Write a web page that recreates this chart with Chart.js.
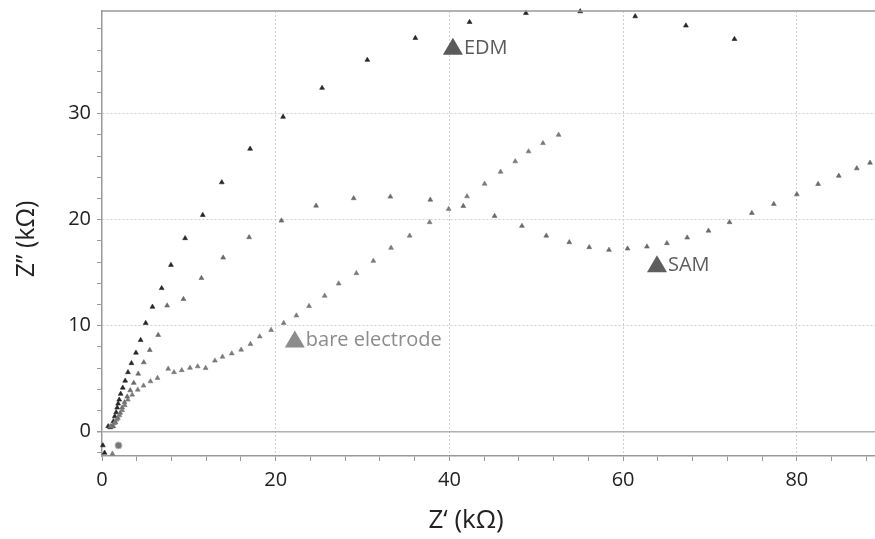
<!DOCTYPE html>
<html lang="en">

<head>
    <meta charset="UTF-8">
    <title>Nyquist plot</title>
    <style>
        body { margin: 0; background: #fff; }
    </style>
</head>

<body>
    <canvas id="myChart" width="875" height="539"></canvas>

    <script src="https://cdn.jsdelivr.net/npm/chart.js@4.4.1/dist/chart.umd.min.js"></script>
    <script>
        // EDM series (kOhm)
        const edmX = [0.1, 0.3, 0.71, 0.94, 1.17, 1.32, 1.47, 1.63, 1.75, 1.86, 1.98, 2.15, 2.39, 2.67, 2.99, 3.39, 3.91,
            4.45, 5.03, 5.81, 6.87, 7.94, 9.57, 11.6, 13.79, 17.05, 20.85, 25.34, 30.55, 36.08, 42.32, 48.81, 55.06,
            61.39, 67.23, 72.82];
        const edmY = [-1.3, -2.0, 0.5, 0.4, 0.5, 0.97, 1.44, 1.82, 2.26, 2.64, 3.01, 3.56, 4.14, 4.8, 5.6, 6.45, 7.44,
            8.63, 10.24, 11.77, 13.53, 15.72, 18.24, 20.43, 23.51, 26.68, 29.69, 32.42, 35.06, 37.13, 38.63, 39.48, 39.64,
            39.17, 38.3, 37.03];

        // SAM series
        const samX = [1.29, 1.55, 1.82, 2.09, 2.32, 2.59, 2.9, 3.25, 3.66, 4.17, 4.81, 5.5, 6.47, 7.5, 9.38, 11.45,
            13.95, 16.94, 20.66, 24.65, 28.98, 33.2, 37.8, 41.6, 45.2, 48.35, 51.15, 53.8, 56.1, 58.37, 60.51, 62.74,
            65.04, 67.38, 69.83, 72.25, 74.82, 77.35, 80.0, 82.45, 84.83, 86.9, 88.43];
        const samY = [0.5, 0.88, 1.29, 1.76, 2.26, 2.76, 3.3, 3.89, 4.59, 5.46, 6.53, 7.69, 9.11, 11.89, 12.5, 14.48,
            16.41, 18.33, 19.9, 21.31, 22.01, 22.16, 21.87, 21.28, 20.34, 19.4, 18.48, 17.86, 17.39, 17.14, 17.26, 17.45,
            17.77, 18.3, 18.95, 19.75, 20.62, 21.47, 22.38, 23.35, 24.13, 24.83, 25.36];

        // bare electrode series
        const bareX = [1.2, 0.98, 1.4, 1.7, 2.01, 2.32, 2.62, 2.97, 3.48, 4.12, 4.78, 5.58, 6.39, 7.62, 8.29, 9.18,
            10.13, 11.02, 11.93, 13.0, 13.87, 14.94, 16.02, 17.09, 18.16, 19.47, 20.92, 22.38, 23.84, 25.64, 27.25,
            29.29, 31.24, 33.28, 35.42, 37.72, 39.91, 42.03, 44.05, 45.89, 47.58, 49.11, 50.77, 52.57];
        const bareY = [-2.1, 0.5, 0.78, 1.13, 1.53, 2.0, 2.48, 3.01, 3.48, 3.95, 4.33, 4.74, 5.06, 5.93, 5.6, 5.79,
            6.01, 6.15, 6.0, 6.69, 7.06, 7.37, 7.72, 8.26, 8.97, 9.58, 10.24, 10.95, 11.84, 12.81, 13.96,
            14.94, 16.1, 17.33, 18.48, 19.75, 21.0, 22.19, 23.38, 24.51, 25.49, 26.43, 27.21, 27.99];

        // odd round marker near origin
        const spotX = [1.9];
        const spotY = [-1.3];

        // in-plot labels
        const labelNames = ['EDM', 'SAM', 'bare electrode'];
        const labelX = [40.4, 63.9, 22.2];
        const labelY = [36.3, 15.8, 8.7];
        const labelColors = ['#5a5a5a', '#5e5e5e', '#8c8c8c'];

        const xTickLabels = [0, 20, 40, 60, 80];
        const yTickLabels = [0, 10, 20, 30];

        const toPoints = (xs, ys) => xs.map((x, i) => ({ x: x, y: ys[i] }));

        const labelPlugin = {
            id: 'labels',
            afterDatasetsDraw(chart) {
                const c = chart.ctx;
                const xs = chart.scales.x, ys = chart.scales.y;
                const area = chart.chartArea;
                c.save();
                // top frame line
                c.strokeStyle = '#999';
                c.lineWidth = 1.5;
                c.beginPath();
                c.moveTo(area.left, area.top);
                c.lineTo(area.right, area.top);
                c.stroke();

                c.font = '20px "Open Sans"';
                c.textBaseline = 'middle';
                c.textAlign = 'left';
                labelNames.forEach((name, i) => {
                    const px = xs.getPixelForValue(labelX[i]);
                    const py = ys.getPixelForValue(labelY[i]);
                    c.fillStyle = labelColors[i];
                    c.beginPath();
                    c.moveTo(px, py - 9);
                    c.lineTo(px + 10, py + 8);
                    c.lineTo(px - 10, py + 8);
                    c.closePath();
                    c.fill();
                    c.fillText(name, px + 11, py + 1);
                });

                // axis titles
                c.fillStyle = '#222';
                c.font = '26px "Open Sans"';
                c.textAlign = 'center';
                c.fillText('Z\u2018 (k\u03A9)', area.left + area.width * 0.471, 521);
                c.translate(27, 239);
                c.rotate(-Math.PI / 2);
                c.font = '25px "Open Sans"';
                c.fillText('Z\u2019\u2019 (k\u03A9)', 0, 0);
                c.restore();
            }
        };

        const tri = (color) => ({
            pointStyle: 'triangle',
            pointRadius: 2.8,
            pointBackgroundColor: color,
            pointBorderColor: color,
            pointBorderWidth: 0.6,
            showLine: false,
            clip: false
        });

        var ctx = document.getElementById('myChart');
        var config = {
            type: 'scatter',
            data: {
                datasets: [
                    Object.assign({ label: 'bare electrode', data: toPoints(bareX, bareY) }, tri('#7a7a7a')),
                    Object.assign({ label: 'SAM', data: toPoints(samX, samY) }, tri('#6a6a6a')),
                    Object.assign({ label: 'EDM', data: toPoints(edmX, edmY) }, tri('#262626')),
                    {
                        label: 'spot',
                        data: toPoints(spotX, spotY),
                        pointStyle: 'circle',
                        pointRadius: 3.5,
                        pointBackgroundColor: '#777',
                        pointBorderColor: '#bbb',
                        pointBorderWidth: 1,
                        clip: false
                    }
                ]
            },
            options: {
                responsive: false,
                animation: false,
                layout: { autoPadding: false, padding: { top: 11, right: 0, left: 0, bottom: 0 } },
                plugins: { legend: { display: false }, tooltip: { enabled: false } },
                scales: {
                    x: {
                        type: 'linear',
                        min: 0,
                        max: 89,
                        afterFit: s => { s.height = 83; s.paddingLeft = 0; s.paddingRight = 0; },
                        ticks: {
                            stepSize: 4,
                            includeBounds: false,
                            autoSkip: false,
                            maxRotation: 0,
                            padding: 7,
                            color: '#222',
                            font: { family: '"Open Sans"', size: 20 },
                            callback: v => xTickLabels.includes(v) ? String(v) : ''
                        },
                        grid: {
                            color: c => (c.tick && c.tick.value !== 0 && xTickLabels.includes(c.tick.value)) ? '#cfcfcf' : 'rgba(0,0,0,0)',
                            tickColor: '#999',
                            tickLength: 5,
                            lineWidth: 1
                        },
                        border: { color: '#999', width: 1.5, dash: [2, 2] }
                    },
                    y: {
                        type: 'linear',
                        min: -2.3,
                        max: 39.68,
                        afterFit: s => { s.width = 102; s.paddingTop = 0; s.paddingBottom = 0; },
                        ticks: {
                            stepSize: 2,
                            includeBounds: false,
                            autoSkip: false,
                            padding: 6,
                            color: '#222',
                            font: { family: '"Open Sans"', size: 20 },
                            callback: v => yTickLabels.includes(v) ? String(v) : ''
                        },
                        grid: {
                            color: c => {
                                if (!c.tick) return 'rgba(0,0,0,0)';
                                if (c.tick.value === 0) return '#b0b0b0';
                                return yTickLabels.includes(c.tick.value) ? '#cfcfcf' : 'rgba(0,0,0,0)';
                            },
                            tickColor: '#999',
                            tickLength: 5,
                            lineWidth: c => (c.tick && c.tick.value === 0) ? 1.5 : 1
                        },
                        border: {
                            color: '#999',
                            width: 1.5,
                            dash: c => (c.tick && c.tick.value === 0) ? [] : [2, 2]
                        }
                    }
                }
            },
            plugins: [labelPlugin]
        };
        var chart = new Chart(ctx, config);
    </script>

</body>

</html>
